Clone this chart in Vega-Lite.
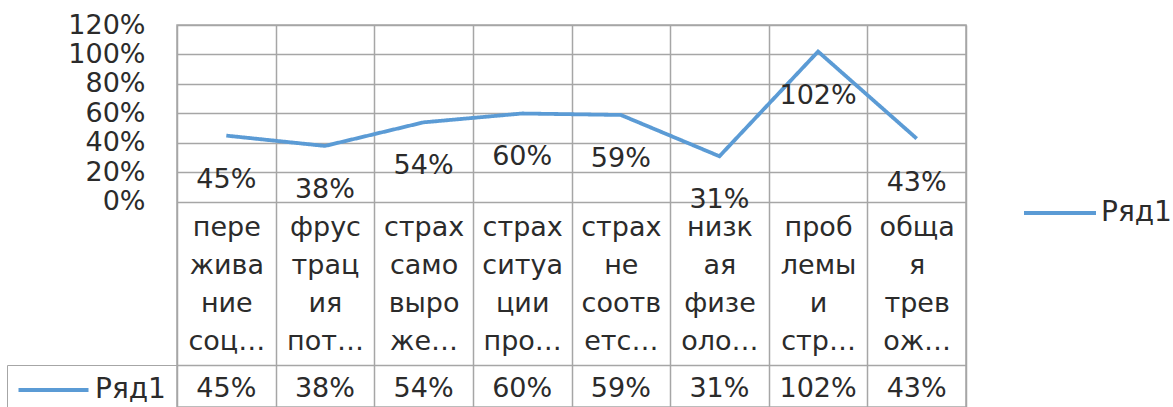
{
  "$schema": "https://vega.github.io/schema/vega-lite/v6.json",
  "width": 789,
  "height": 382,
  "autosize": {"type": "none"},
  "padding": {"left": 177, "top": 25, "right": 207, "bottom": 0},
  "background": "white",
  "view": {"stroke": "#a6a6a6", "strokeWidth": 1.5},
  "config": {
    "font": "DejaVu Sans",
    "axis": {"labelFont": "DejaVu Sans", "labelColor": "#2b2b2b", "labelFontSize": 27},
    "legend": {"labelFont": "DejaVu Sans", "labelColor": "#2b2b2b", "labelFontSize": 28, "symbolStrokeWidth": 4}
  },
  "data": {
    "values": [
      {"cat": "пере|жива|ние|соц…", "value": 0.45, "vlabel": "45%", "series": "Ряд1", "row": "Ряд1"},
      {"cat": "фрус|трац|ия|пот…", "value": 0.38, "vlabel": "38%", "series": "Ряд1", "row": "Ряд1"},
      {"cat": "страх|само|выро|же…", "value": 0.54, "vlabel": "54%", "series": "Ряд1", "row": "Ряд1"},
      {"cat": "страх|ситуа|ции|про…", "value": 0.60, "vlabel": "60%", "series": "Ряд1", "row": "Ряд1"},
      {"cat": "страх|не|соотв|етс…", "value": 0.59, "vlabel": "59%", "series": "Ряд1", "row": "Ряд1"},
      {"cat": "низк|ая|физе|оло…", "value": 0.31, "vlabel": "31%", "series": "Ряд1", "row": "Ряд1"},
      {"cat": "проб|лемы|и|стр…", "value": 1.02, "vlabel": "102%", "series": "Ряд1", "row": "Ряд1"},
      {"cat": "обща|я|трев|ож…", "value": 0.43, "vlabel": "43%", "series": "Ряд1", "row": "Ряд1"}
    ]
  },
  "layer": [
    {
      "mark": {"type": "line", "strokeWidth": 3.8},
      "encoding": {
        "x": {
          "field": "cat", "type": "nominal", "sort": null, "bandPosition": 0.5,
          "scale": {"type": "band", "paddingInner": 0, "paddingOuter": 0},
          "axis": {
            "orient": "bottom", "offset": -205, "title": null, "domain": false, "ticks": false,
            "grid": true, "gridColor": "#a6a6a6", "gridWidth": 1.5, "tickBand": "extent",
            "labelExpr": "split(datum.label, '|')", "labelAngle": 0, "labelLineHeight": 38,
            "labelBaseline": "top", "labelPadding": 12, "labelLimit": 200, "labelOverlap": false
          }
        },
        "y": {
          "field": "value", "type": "quantitative",
          "scale": {"domain": [-1.39, 1.2], "nice": false, "zero": false},
          "axis": {
            "values": [-1.105, 0, 0.2, 0.4, 0.6, 0.8, 1.0, 1.2],
            "labelExpr": "datum.value < 0 ? '' : format(datum.value, '.0%')",
            "title": null, "domain": false, "ticks": false, "grid": true,
            "gridColor": "#a6a6a6", "gridWidth": 1.5, "labelPadding": 32, "labelBaseline": "middle"
          }
        },
        "color": {
          "field": "series", "type": "nominal", "scale": {"range": ["#5B9BD5"]},
          "legend": {
            "orient": "none", "legendX": 843, "legendY": 174, "title": null, "padding": 0,
            "symbolType": "M-1,0H6.2", "symbolSize": 400, "symbolStrokeWidth": 4,
            "labelOffset": 53
          }
        },
        "strokeDash": {
          "field": "row", "type": "nominal", "scale": {"range": [[1, 0]]},
          "legend": {
            "orient": "none", "legendX": -170, "legendY": 340, "title": null, "padding": 11,
            "strokeColor": "#a6a6a6",
            "symbolType": "M-1.35,0H5.65", "symbolSize": 400, "symbolStrokeWidth": 4,
            "symbolStrokeColor": "#5B9BD5", "labelOffset": 49
          }
        }
      }
    },
    {
      "mark": {"type": "text", "dy": 44, "fontSize": 27, "font": "DejaVu Sans", "color": "#2b2b2b"},
      "encoding": {
        "x": {
          "field": "vlabel", "type": "nominal", "sort": null, "bandPosition": 0.5,
          "scale": {"type": "band", "paddingInner": 0, "paddingOuter": 0},
          "axis": {
            "orient": "bottom", "offset": -42, "title": null, "domain": false, "ticks": false,
            "grid": false, "labelAngle": 0, "labelBaseline": "middle", "labelPadding": 23,
            "labelOverlap": false
          }
        },
        "y": {"field": "value", "type": "quantitative"},
        "text": {"field": "vlabel"}
      }
    }
  ],
  "resolve": {"scale": {"x": "independent"}, "axis": {"x": "independent"}}
}
